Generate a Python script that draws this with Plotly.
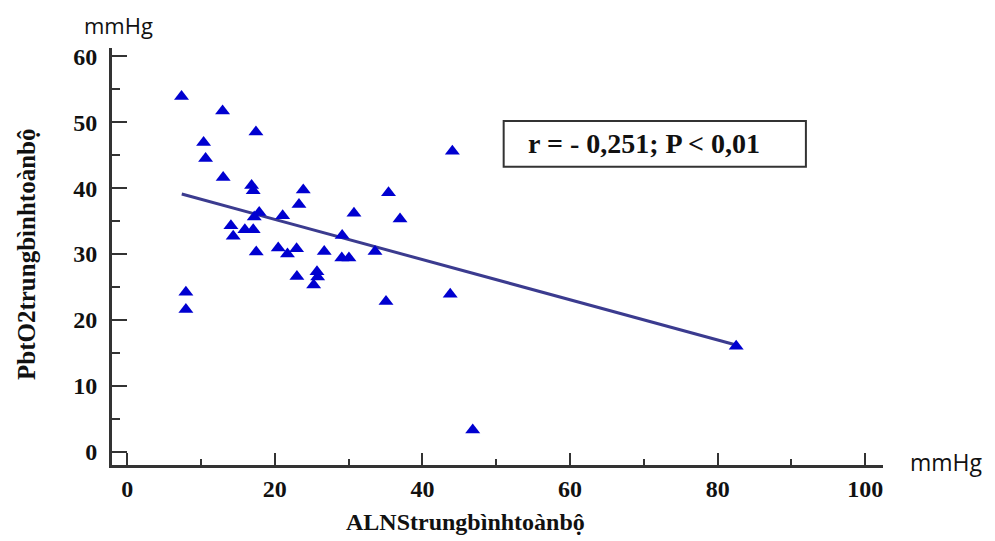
import plotly.graph_objects as go

# Scatter data (ALNS mean, PbtO2 mean), mmHg
alns = [7.37, 12.93, 17.45, 10.36, 10.63, 13.01, 16.86, 17.08, 23.86, 23.28,
        17.89, 17.22, 21.07, 30.73, 35.41, 36.97, 14.06, 14.37, 15.95, 17.08,
        29.13, 33.58, 17.49, 20.47, 21.72, 22.96, 26.70, 29.08, 30.05, 23.00,
        25.72, 25.81, 25.27, 7.96, 7.96, 35.07, 43.77, 44.06, 82.51, 46.82]
pbto2 = [53.9, 51.7, 48.5, 46.9, 44.5, 41.6, 40.4, 39.6, 39.7, 37.5,
         36.3, 35.6, 35.8, 36.2, 39.3, 35.3, 34.3, 32.7, 33.7, 33.7,
         32.8, 30.4, 30.3, 30.9, 30.0, 30.8, 30.4, 29.4, 29.4, 26.6,
         27.3, 26.5, 25.3, 24.2, 21.6, 22.8, 23.9, 45.6, 16.0, 3.3]

# Regression line end points
fit_x = [7.4, 82.5]
fit_y = [39.1, 16.2]

x_tick_vals = [0, 20, 40, 60, 80, 100]
y_tick_vals = [0, 10, 20, 30, 40, 50, 60]

stat_text = "r = - 0,251; P < 0,01"
x_title = "ALNStrungbìnhtoànbộ"
y_title = "PbtO2trungbìnhtoànbộ"
unit = "mmHg"

serif = "Liberation Serif"
axis_col = "#333333"

fig = go.Figure()
fig.add_trace(go.Scatter(x=fit_x, y=fit_y, mode="lines",
                         line=dict(color="#3b3b8f", width=3), hoverinfo="skip",
                         showlegend=False))
fig.add_trace(go.Scatter(x=alns, y=pbto2, mode="markers",
                         marker=dict(symbol="triangle-up", size=13, color="#0000d0",
                                     line=dict(width=0)),
                         showlegend=False))

fig.update_layout(
    width=987, height=533,
    margin=dict(l=104, r=112, t=40, b=76),
    plot_bgcolor="white", paper_bgcolor="white",
    xaxis=dict(range=[-2.05, 102.4], showline=True, linecolor=axis_col, linewidth=3,
               showgrid=False, zeroline=False,
               tickmode="array", tickvals=x_tick_vals,
               ticks="inside", ticklen=12, tickwidth=2, tickcolor=axis_col,
               minor=dict(ticks="inside", ticklen=6, tickwidth=2, tickcolor=axis_col,
                          dtick=10, tick0=0, showgrid=False),
               tickfont=dict(family=serif, size=24, color="#111111", weight="bold"),
               ticklabelstandoff=0),
    yaxis=dict(range=[-2.0, 61.25], showline=True, linecolor=axis_col, linewidth=3,
               showgrid=False, zeroline=False,
               tickmode="array", tickvals=y_tick_vals,
               ticks="inside", ticklen=15, tickwidth=2, tickcolor=axis_col,
               minor=dict(ticks="inside", ticklen=8, tickwidth=2, tickcolor=axis_col,
                          dtick=5, tick0=0, showgrid=False),
               tickfont=dict(family=serif, size=24, color="#111111", weight="bold"),
               ticklabelstandoff=7),
    shapes=[dict(type="rect", xref="paper", yref="paper",
                 x0=0.508, x1=0.900, y0=0.715, y1=0.825,
                 line=dict(color="#333333", width=2), fillcolor="rgba(0,0,0,0)")],
    annotations=[
        dict(text=stat_text, xref="paper", yref="paper", x=0.690, y=0.772,
             showarrow=False, xanchor="center", yanchor="middle",
             font=dict(family=serif, size=28, color="#111111", weight="bold")),
        dict(text=x_title, xref="paper", yref="paper", x=0.458, y=-0.137,
             showarrow=False, xanchor="center", yanchor="middle",
             font=dict(family=serif, size=24, color="#111111", weight="bold")),
        dict(text=y_title, xref="paper", yref="paper", x=-0.110, y=0.504,
             showarrow=False, xanchor="center", yanchor="middle", textangle=-90,
             font=dict(family=serif, size=25, color="#111111", weight="bold")),
        dict(text=unit, xref="paper", yref="paper", x=0.0078, y=1.055,
             showarrow=False, xanchor="center", yanchor="middle",
             font=dict(family="Open Sans", size=22, color="#111111")),
        dict(text=unit, xref="paper", yref="paper", x=1.082, y=0.007,
             showarrow=False, xanchor="center", yanchor="middle",
             font=dict(family="Open Sans", size=23, color="#111111")),
    ],
)

fig.write_html("out.html")
